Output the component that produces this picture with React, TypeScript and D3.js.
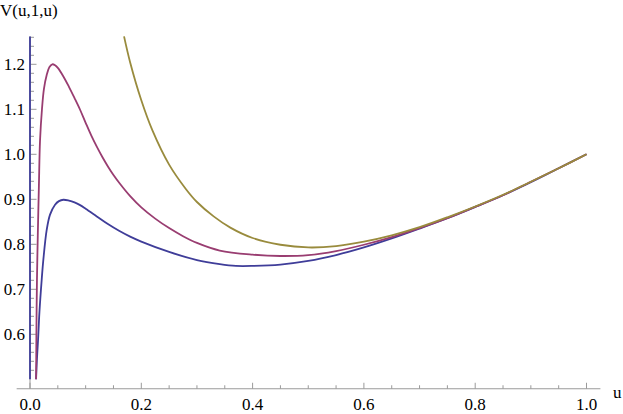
import React from "react";
import * as d3 from "d3";

const W = 623;
const H = 414;

// u values and V values
const blueU = [0.0108, 0.0125, 0.0145, 0.017, 0.021, 0.024, 0.03, 0.036, 0.045, 0.052, 0.06, 0.07, 0.08, 0.09, 0.1, 0.12, 0.14, 0.16, 0.18, 0.2, 0.25, 0.3, 0.341, 0.37, 0.4, 0.45, 0.5, 0.55, 0.6, 0.65, 0.7, 0.75, 0.8, 0.85, 0.9, 0.95, 1.0];
const blueV = [0.5, 0.545, 0.588, 0.65, 0.721, 0.766, 0.832, 0.866, 0.888, 0.896, 0.899, 0.897, 0.893, 0.887, 0.879, 0.862, 0.845, 0.83, 0.817, 0.806, 0.783, 0.765, 0.756, 0.752, 0.752, 0.755, 0.763, 0.776, 0.793, 0.813, 0.835, 0.858, 0.883, 0.909, 0.938, 0.969, 1.0];
// vertical branch of the blue curve at u = 0
const blueJumpU = [0, 0];
const blueJumpV = [0.5, 1.262];

const magentaU = [0.011, 0.0115, 0.0125, 0.014, 0.016, 0.018, 0.0215, 0.025, 0.03, 0.035, 0.04, 0.045, 0.05, 0.06, 0.07, 0.08, 0.09, 0.1, 0.11, 0.12, 0.13, 0.14, 0.15, 0.162, 0.18, 0.2, 0.225, 0.25, 0.275, 0.3, 0.341, 0.4, 0.45, 0.5, 0.55, 0.6, 0.65, 0.7, 0.75, 0.8, 0.85, 0.9, 0.95, 1.0];
const magentaV = [0.5, 0.6, 0.72, 0.82, 0.93, 1.03, 1.1, 1.145, 1.176, 1.194, 1.2, 1.198, 1.192, 1.173, 1.15, 1.125, 1.099, 1.07, 1.042, 1.017, 0.994, 0.973, 0.954, 0.934, 0.907, 0.882, 0.857, 0.836, 0.818, 0.803, 0.786, 0.777, 0.774, 0.776, 0.785, 0.799, 0.816, 0.836, 0.858, 0.883, 0.909, 0.939, 0.969, 1.0];

const goldU = [0.169, 0.18, 0.2, 0.22, 0.25, 0.28, 0.3, 0.33, 0.36, 0.4, 0.45, 0.5, 0.55, 0.6, 0.65, 0.7, 0.75, 0.8, 0.85, 0.9, 0.95, 1.0];
const goldV = [1.262, 1.204, 1.12, 1.053, 0.977, 0.923, 0.894, 0.862, 0.837, 0.814, 0.799, 0.793, 0.796, 0.806, 0.82, 0.838, 0.86, 0.884, 0.91, 0.939, 0.969, 1.0];

const xMajor = [0, 0.2, 0.4, 0.6, 0.8, 1.0];
const xMajorLabels = ["0.0", "0.2", "0.4", "0.6", "0.8", "1.0"];
const yMajor = [0.6, 0.7, 0.8, 0.9, 1.0, 1.1, 1.2];
const yMajorLabels = ["0.6", "0.7", "0.8", "0.9", "1.0", "1.1", "1.2"];

const COLORS = {
  blue: "rgb(63,61,153)",
  magenta: "rgb(153,61,113)",
  gold: "rgb(153,139,61)",
};

export default function App() {
  const x = d3.scaleLinear().domain([0, 1]).range([30, 586.5]);
  const y = d3.scaleLinear().domain([0.6, 1.2]).range([334.3, 64.3]);

  const xAxisV = 0.479;
  const xAxisY = y(xAxisV);
  const yTop = 1.262;

  const xMinor = d3.range(0, 21).map((i) => i * 0.05).filter((v) => Math.round(v * 100) % 20 !== 0);
  const yMinor = d3
    .range(25, 64)
    .map((i) => i * 0.02)
    .filter((v) => Math.round(v * 100) % 10 !== 0 && v <= yTop + 1e-9 && v >= 0.5 - 1e-9);

  const line = d3
    .line<[number, number]>()
    .x((d) => x(d[0]))
    .y((d) => y(d[1]))
    .curve(d3.curveCatmullRom.alpha(0.5));
  const straight = d3
    .line<[number, number]>()
    .x((d) => x(d[0]))
    .y((d) => y(d[1]));

  const zip = (a: number[], b: number[]) => a.map((v, i) => [v, b[i]] as [number, number]);

  const font = "'Liberation Serif', 'Times New Roman', serif";
  const axisColor = "#9a9a9a";

  return (
    <svg
      width={W}
      height={H}
      style={{ position: "absolute", left: 0, top: 0, background: "#fff" }}
      fontFamily={font}
    >
      {/* axes */}
      <line x1={x(-0.024)} x2={x(1.025)} y1={xAxisY} y2={xAxisY} stroke={axisColor} strokeWidth={1} />
      <line x1={x(0)} x2={x(0)} y1={xAxisY} y2={y(yTop)} stroke={axisColor} strokeWidth={1} />

      {/* x ticks */}
      {xMajor.map((v, i) => (
        <g key={"xm" + i}>
          <line x1={x(v)} x2={x(v)} y1={xAxisY} y2={xAxisY - 6} stroke={axisColor} strokeWidth={1} />
          <text x={x(v)} y={xAxisY + 21} fontSize={17} textAnchor="middle" fill="#000">
            {xMajorLabels[i]}
          </text>
        </g>
      ))}
      {xMinor.map((v, i) => (
        <line key={"xn" + i} x1={x(v)} x2={x(v)} y1={xAxisY} y2={xAxisY - 3.5} stroke={axisColor} strokeWidth={1} />
      ))}

      {/* y ticks */}
      {yMajor.map((v, i) => (
        <g key={"ym" + i}>
          <line x1={x(0)} x2={x(0) + 6.5} y1={y(v)} y2={y(v)} stroke={axisColor} strokeWidth={1} />
          <text x={25} y={y(v) + 5.8} fontSize={17} textAnchor="end" fill="#000">
            {yMajorLabels[i]}
          </text>
        </g>
      ))}
      {yMinor.map((v, i) => (
        <line key={"yn" + i} x1={x(0)} x2={x(0) + 4} y1={y(v)} y2={y(v)} stroke={axisColor} strokeWidth={1} />
      ))}

      {/* axis labels */}
      <text x={0} y={16} fontSize={17} fill="#000">V(u,1,u)</text>
      <text x={613} y={397.5} fontSize={17} fill="#000">u</text>

      {/* curves */}
      <path d={straight(zip(blueJumpU, blueJumpV)) || ""} fill="none" stroke={COLORS.blue} strokeWidth={1.8} />
      <path d={line(zip(blueU, blueV)) || ""} fill="none" stroke={COLORS.blue} strokeWidth={1.8} />
      <path d={line(zip(magentaU, magentaV)) || ""} fill="none" stroke={COLORS.magenta} strokeWidth={1.8} />
      <path d={line(zip(goldU, goldV)) || ""} fill="none" stroke={COLORS.gold} strokeWidth={1.8} />
    </svg>
  );
}
